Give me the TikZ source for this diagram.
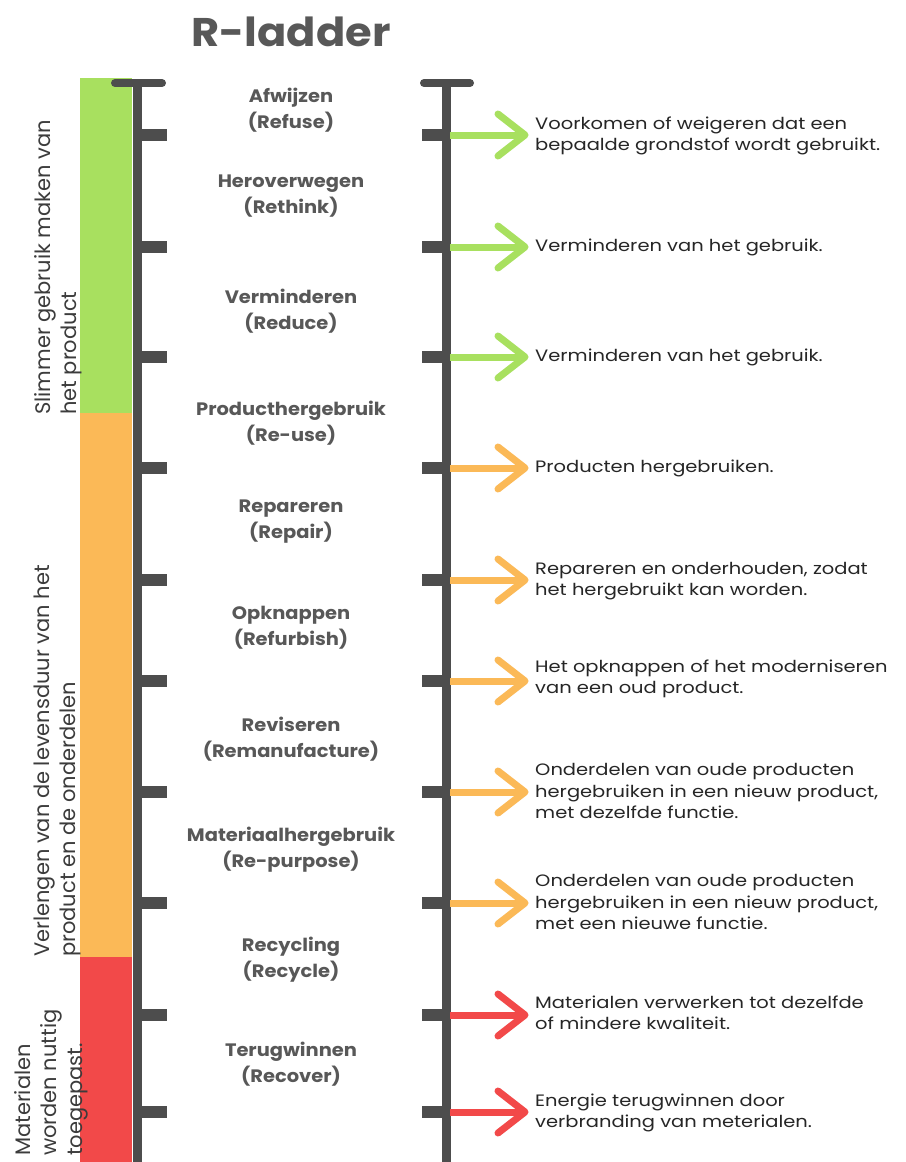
\documentclass[tikz,border=0pt]{standalone}
\usepackage{fontspec}
\setmainfont{Poppins}
\newfontfamily\descfont[FakeStretch=1.18]{Poppins}
\newfontfamily\lblfont[FakeStretch=1.08]{Poppins}
\usetikzlibrary{calc}
\definecolor{rail}{HTML}{4D4D4D}
\definecolor{cgreen}{HTML}{A8E05F}
\definecolor{corange}{HTML}{FBB957}
\definecolor{cred}{HTML}{F24949}
\definecolor{lbl}{HTML}{585858}
\definecolor{txt}{HTML}{262626}
\begin{document}
\begin{tikzpicture}[x=1pt,y=-1pt,
  railline/.style={draw=rail,line width=9pt},
  capline/.style={draw=rail,line width=8pt,line cap=round},
  rungline/.style={draw=rail,line width=12pt},
  lblnode/.style={text=lbl,font=\lblfont\bfseries\fontsize{18}{26}\selectfont,align=center,inner sep=0pt},
  desc/.style={text=txt,font=\descfont\fontsize{16.5}{21.5}\selectfont,align=left,anchor=west,inner sep=0pt},
  side/.style={text=txt!90,font=\fontsize{21}{26}\selectfont,align=left,rotate=90,anchor=north west,inner sep=0pt},
  shaft/.style={line width=7pt},
  head/.style={line width=7pt,line cap=round,line join=round}]
\useasboundingbox (0,0) rectangle (905,1162);
\fill[white] (0,0) rectangle (905,1162);
% colour bar
\fill[cgreen] (80,78) rectangle (132,413);
\fill[corange] (80,413) rectangle (132,957);
\fill[cred] (80,957) rectangle (132,1162);
% title
\node[text=lbl,font=\lblfont\bfseries\fontsize{40}{48}\selectfont,inner sep=0pt] (title) at (291,32) {R-ladder};
% rails
\draw[railline] (137,83) -- (137,1162);
\draw[railline] (446,83) -- (446,1162);
\draw[capline] (115,83) -- (162,83);
\draw[capline] (424,83) -- (470,83);
\draw[capline] (115,1166) -- (162,1166);
\draw[capline] (424,1166) -- (470,1166);
% rungs
\foreach \y in {135,247,357,468,580,681,792,903,1015,1112}{
  \draw[rungline] (133,\y) -- (167,\y);
  \draw[rungline] (422,\y) -- (450,\y);
}
% labels
\node[lblnode] (l1) at (291,110) {Afwijzen\\(Refuse)};
\node[lblnode] (l2) at (291,196) {Heroverwegen\\(Rethink)};
\node[lblnode] (l3) at (291,311) {Verminderen\\(Reduce)};
\node[lblnode] (l4) at (291,423) {Producthergebruik\\(Re-use)};
\node[lblnode] (l5) at (291,522) {Repareren\\(Repair)};
\node[lblnode] (l6) at (291,628) {Opknappen\\(Refurbish)};
\node[lblnode] (l7) at (291,739) {Reviseren\\(Remanufacture)};
\node[lblnode] (l8) at (291,850) {Materiaalhergebruik\\(Re-purpose)};
\node[lblnode] (l9) at (291,960) {Recycling\\(Recycle)};
\node[lblnode] (l10) at (291,1064) {Terugwinnen\\(Recover)};
% descriptions
\node[desc] (t1) at (535,136) {Voorkomen of weigeren dat een\\bepaalde grondstof wordt gebruikt.};
\node[desc] (t2) at (535,247) {Verminderen van het gebruik.};
\node[desc] (t3) at (535,357) {Verminderen van het gebruik.};
\node[desc] (t4) at (535,468) {Producten hergebruiken.};
\node[desc] (t5) at (535,581) {Repareren en onderhouden, zodat\\het hergebruikt kan worden.};
\node[desc] (t6) at (535,679) {Het opknappen of het moderniseren\\van een oud product.};
\node[desc] (t7) at (535,791) {Onderdelen van oude producten\\hergebruiken in een nieuw product,\\met dezelfde functie.};
\node[desc] (t8) at (535,902) {Onderdelen van oude producten\\hergebruiken in een nieuw product,\\met een nieuwe functie.};
\node[desc] (t9) at (535,1013) {Materialen verwerken tot dezelfde\\of mindere kwaliteit.};
\node[desc] (t10) at (535,1113) {Energie terugwinnen door\\verbranding van meterialen.};
% arrows
\foreach \i/\y/\c in {1/135/cgreen,2/247/cgreen,3/357/cgreen,4/468/corange,5/580/corange,6/681/corange,7/792/corange,8/903/corange,9/1015/cred,10/1112/cred}{
  \coordinate (s\i) at (450,\y);
  \coordinate (e\i) at (t\i.west |- s\i);
  \draw[shaft,\c] (s\i) -- ($(e\i)+(-13,0)$);
  \draw[head,\c] ($(e\i)+(-37,-21)$) -- ($(e\i)+(-10,0)$) -- ($(e\i)+(-37,21)$);
}
% side texts
\node[side] (g1) at (34,415) {Slimmer gebruik maken van\\het product};
\node[side] (g2) at (34,957) {Verlengen van de levensduur van het\\product en de onderdelen};
\node[side] (g3) at (14,1156) {Materialen\\worden nuttig\\toegepast.};
\end{tikzpicture}
\end{document}
